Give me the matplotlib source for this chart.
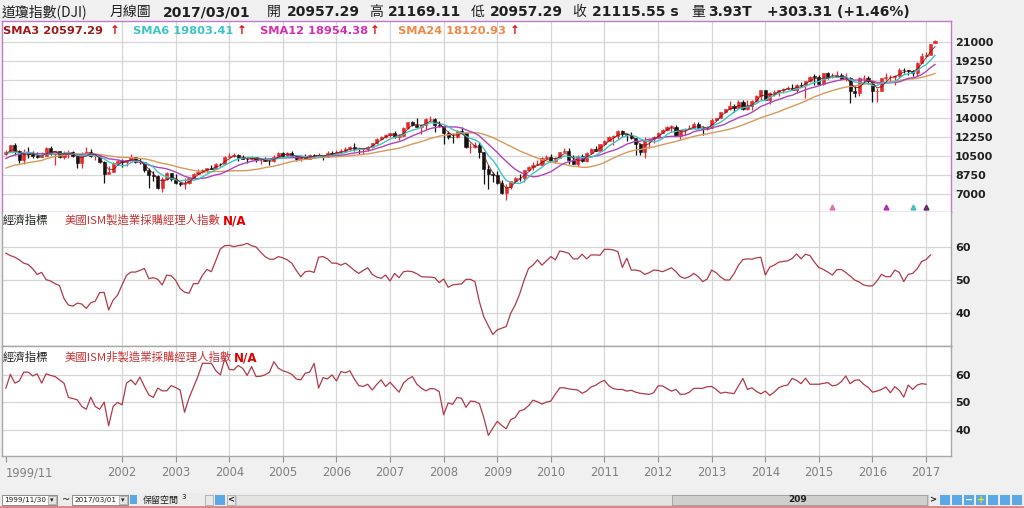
import matplotlib
matplotlib.use('Agg')
import matplotlib.pyplot as plt
import numpy as np
import pandas as pd
from matplotlib.patches import Rectangle

plt.rcParams['font.family'] = ['DejaVu Sans', 'Noto Sans CJK TC']
CJK = ['Noto Sans CJK TC', 'DejaVu Sans']

# ---------------- data ----------------
start_label = '1999/11'
year_labels = ['2002', '2003', '2004', '2005', '2006', '2007', '2008', '2009',
               '2010', '2011', '2012', '2013', '2014', '2015', '2016', '2017']

# closes before 1999/11 (for moving-average warm-up), 1997/12 .. 1999/10
pre_closes = [7908, 7907, 8546, 8800, 9063, 8900, 8952, 8883, 7539, 7843, 8592, 9117, 9181,
              9359, 9307, 9786, 10789, 10560, 10971, 10655, 10829, 10337, 10729]

opens = [10730, 10878,
 11497, 10940, 10128, 10922, 10734, 10522, 10448, 10522, 11215, 10651, 10971, 10415,
 10788, 10887, 10495, 9879, 10735, 10912, 10502, 10523, 9950, 8848, 9075, 9852,
 10022, 9920, 10106, 10404, 9946, 9925, 9243, 8737, 8664, 7592, 8397, 8896,
 8342, 8054, 7891, 7992, 8480, 8850, 8985, 9234, 9416, 9275, 9801, 9782,
 10454, 10488, 10584, 10358, 10226, 10188, 10435, 10140, 10174, 10080, 10027, 10428,
 10783, 10490, 10766, 10504, 10193, 10467, 10275, 10641, 10482, 10569, 10440, 10806,
 10718, 10865, 10993, 11109, 11367, 11168, 11150, 11186, 11381, 11679, 12081, 12222,
 12463, 12622, 12269, 12354, 13063, 13628, 13409, 13212, 13358, 13896, 13930, 13372,
 13265, 12650, 12266, 12263, 12820, 12638, 11350, 11378, 11544, 10851, 9325, 8829,
 8776, 8001, 7063, 7609, 8168, 8500, 8447, 9172, 9496, 9712, 9713, 10345,
 10428, 10067, 10325, 10857, 11009, 10137, 9774, 10466, 10015, 10788, 11118, 11006,
 11578, 11892, 12226, 12320, 12811, 12570, 12414, 12143, 11614, 10913, 11955, 12046,
 12218, 12633, 12952, 13212, 13214, 12393, 12880, 13009, 13091, 13437, 13096, 13026,
 13104, 13861, 14054, 14579, 14840, 15116, 14910, 15500, 14810, 15130, 15546, 16086,
 16577, 15699, 16322, 16458, 16581, 16717, 16827, 16563, 17098, 17043, 17391, 17828,
 17823, 17165, 18133, 17776, 17841, 18011, 17620, 17690, 16528, 16285, 17664, 17720,
 17425, 16466, 16517, 17685, 17774, 17787, 17930, 18432, 18401, 18308, 18142, 19124,
 19763, 19864, 20957.29]

highs = [11090, 11568,
 11750, 11040, 11120, 11350, 10980, 10870, 10870, 11310, 11400, 10980, 10990, 10950,
 11020, 11000, 10700, 10860, 11350, 11140, 10700, 10620, 10000, 9590, 9980, 10200,
 10260, 10170, 10670, 10450, 10350, 9930, 9380, 9080, 8730, 8540, 9040, 8910,
 8870, 8110, 8520, 8500, 8900, 9340, 9340, 9430, 9690, 9830, 9900, 10480,
 10750, 10760, 10700, 10570, 10320, 10500, 10450, 10200, 10380, 10180, 10580, 10870,
 10880, 10850, 10980, 10600, 10550, 10700, 10720, 10720, 10740, 10590, 10940, 10990,
 11050, 11130, 11330, 11420, 11670, 11260, 11250, 11420, 11730, 12170, 12350, 12530,
 12650, 12790, 12500, 13160, 13690, 13700, 14020, 13450, 14000, 14200, 13980, 13780,
 13280, 12770, 12620, 12900, 13140, 12660, 11700, 11810, 11790, 10880, 9650, 9030,
 9090, 8310, 7930, 8240, 8570, 8880, 9200, 9630, 9920, 10120, 10410, 10580,
 10730, 10400, 10910, 11260, 11210, 10600, 10580, 10720, 10860, 11250, 11450, 11650,
 12020, 12390, 12420, 12880, 12880, 12580, 12750, 12150, 11720, 12280, 12200, 12330,
 12720, 13000, 13290, 13340, 13340, 12900, 13080, 13330, 13650, 13660, 13290, 13290,
 13970, 14020, 14590, 14890, 15540, 15340, 15630, 15660, 15710, 15720, 16170, 16590,
 16590, 16400, 16590, 16630, 16740, 16980, 17150, 17160, 17350, 17400, 17900, 18100,
 17950, 18140, 18290, 18180, 18350, 18200, 18140, 17780, 16930, 17800, 17980, 17900,
 17430, 16800, 17720, 18170, 18000, 18020, 18620, 18670, 18430, 18400, 19150, 19990,
 20130, 20850, 21169.11]

lows = [10580, 10870,
 10640, 9860, 9730, 10300, 10300, 10350, 10420, 10520, 10600, 9650, 10350, 10270,
 10350, 10380, 9390, 9390, 10700, 10400, 10100, 9900, 8060, 8820, 9060, 9700,
 9530, 9630, 10100, 9850, 9800, 9070, 7530, 8240, 7500, 7200, 8290, 8230,
 7940, 7700, 7420, 7960, 8450, 8840, 8940, 9050, 9270, 9270, 9560, 9770,
 10400, 10450, 10000, 10200, 9850, 10150, 9960, 9800, 10050, 9700, 9980, 10400,
 10370, 10410, 10400, 10000, 10090, 10250, 10250, 10400, 10400, 10150, 10400, 10650,
 10660, 10700, 10900, 11000, 10960, 10700, 10700, 10980, 11250, 11650, 11980, 12190,
 12300, 12200, 11940, 12350, 13030, 13250, 13170, 12500, 12950, 13740, 12720, 13150,
 11630, 12070, 11730, 12200, 12600, 11290, 10830, 11220, 10360, 7880, 7450, 8120,
 7900, 7000, 6470, 7470, 8050, 8220, 8090, 9080, 9250, 9670, 9670, 10240,
 10020, 9840, 10320, 10850, 9770, 9740, 9610, 9930, 9940, 10710, 10930, 10990,
 11540, 11880, 11560, 12090, 12300, 11860, 12080, 10600, 10600, 10360, 11230, 11740,
 12200, 12630, 12780, 12710, 12350, 12040, 12490, 12960, 13060, 13050, 12470, 12880,
 13100, 13780, 14050, 14430, 14740, 14550, 14900, 14760, 14770, 14720, 15500, 15700,
 15690, 15340, 16000, 16000, 16330, 16690, 16560, 16330, 16920, 15860, 17360, 17070,
 17140, 17040, 17580, 17660, 17780, 17590, 17400, 15370, 15940, 16010, 17210, 17140,
 15450, 15500, 16500, 17480, 17330, 17060, 17710, 18160, 17990, 17890, 17880, 19100,
 19680, 19830, 20957.29]

closes = [10878, 11497,
 10940, 10128, 10922, 10734, 10522, 10448, 10522, 11215, 10651, 10971, 10415, 10788,
 10887, 10495, 9879, 10735, 10912, 10502, 10523, 9950, 8848, 9075, 9852, 10022,
 9920, 10106, 10404, 9946, 9925, 9243, 8737, 8664, 7592, 8397, 8896, 8342,
 8054, 7891, 7992, 8480, 8850, 8985, 9234, 9416, 9275, 9801, 9782, 10454,
 10488, 10584, 10358, 10226, 10188, 10435, 10140, 10174, 10080, 10027, 10428, 10783,
 10490, 10766, 10504, 10193, 10467, 10275, 10641, 10482, 10569, 10440, 10806, 10718,
 10865, 10993, 11109, 11367, 11168, 11150, 11186, 11381, 11679, 12081, 12222, 12463,
 12622, 12269, 12354, 13063, 13628, 13409, 13212, 13358, 13896, 13930, 13372, 13265,
 12650, 12266, 12263, 12820, 12638, 11350, 11378, 11544, 10851, 9325, 8829, 8776,
 8001, 7063, 7609, 8168, 8500, 8447, 9172, 9496, 9712, 9713, 10345, 10428,
 10067, 10325, 10857, 11009, 10137, 9774, 10466, 10015, 10788, 11118, 11006, 11578,
 11892, 12226, 12320, 12811, 12570, 12414, 12143, 11614, 10913, 11955, 12046, 12218,
 12633, 12952, 13212, 13214, 12393, 12880, 13009, 13091, 13437, 13096, 13026, 13104,
 13861, 14054, 14579, 14840, 15116, 14910, 15500, 14810, 15130, 15546, 16086, 16577,
 15699, 16322, 16458, 16581, 16717, 16827, 16563, 17098, 17043, 17391, 17828, 17823,
 17165, 18133, 17776, 17840.52, 18010.68, 17619.51, 17689.86, 16528.03, 16284.70, 17663.54, 17719.92, 17425.03,
 16466.30, 16516.50, 17685.09, 17773.64, 17787.20, 17929.99, 18432.24, 18400.88, 18308.15, 18142.42, 19123.58, 19762.60,
 19864.09, 20812.24, 21115.55]

ism_mfg = [58.2, 57.5,
 57.0, 56.2, 55.2, 54.8, 53.5, 51.8, 52.4, 50.2, 49.8, 49.0, 48.4, 44.5,
 42.5, 42.2, 43.1, 42.8, 41.5, 43.2, 43.7, 46.3, 46.3, 41.0, 44.0, 45.5,
 48.6, 51.5, 52.5, 52.5, 53.0, 53.6, 50.5, 50.8, 50.3, 48.6, 51.6, 51.4,
 50.0, 47.5, 46.4, 46.1, 49.0, 49.0, 51.5, 53.3, 52.6, 56.0, 59.5, 60.5,
 60.6, 60.2, 60.5, 60.7, 61.2, 60.5, 60.1, 58.6, 57.2, 56.4, 56.4, 57.2,
 56.8, 56.2, 55.2, 53.0, 51.1, 52.6, 52.8, 52.4, 57.0, 57.2, 56.5, 55.2,
 55.2, 54.6, 55.2, 54.2, 53.0, 52.1, 53.0, 53.8, 51.8, 51.0, 50.6, 51.6,
 49.8, 52.1, 50.8, 52.6, 52.8, 52.6, 52.0, 51.1, 51.0, 51.0, 50.8, 49.3,
 50.4, 47.9, 48.6, 48.8, 48.9, 50.3, 50.3, 49.6, 43.5, 38.9, 36.2, 33.6,
 35.0, 35.5, 36.0, 40.0, 42.5, 45.8, 50.0, 53.6, 54.6, 56.2, 54.6, 55.9,
 57.2, 56.2, 58.9, 58.6, 58.2, 56.5, 56.5, 57.9, 56.5, 57.7, 57.7, 57.6,
 59.4, 59.4, 59.2, 58.7, 53.9, 56.7, 53.1, 53.1, 52.8, 51.8, 52.3, 53.1,
 53.0, 52.6, 53.2, 53.8, 52.6, 51.1, 50.6, 51.1, 52.1, 51.1, 49.6, 50.4,
 53.1, 52.3, 51.0, 50.1, 50.1, 52.0, 54.6, 56.3, 56.5, 56.4, 56.8, 57.0,
 51.6, 54.0, 54.6, 55.5, 55.7, 55.9, 56.6, 58.0, 56.5, 57.9, 57.5, 55.5,
 53.9, 53.3, 52.5, 51.6, 53.2, 53.3, 52.4, 51.3, 50.1, 49.5, 48.6, 48.3,
 48.3, 49.8, 51.8, 51.1, 51.1, 53.1, 52.4, 49.6, 51.8, 52.1, 53.5, 55.7,
 56.3, 57.7]

ism_nonmfg = [55.2, 60.2,
 57.0, 57.8, 61.0, 61.0, 59.6, 60.4, 57.0, 60.4, 59.8, 59.4, 58.2, 57.0,
 51.8, 51.4, 50.9, 48.5, 47.5, 51.9, 48.5, 47.5, 50.1, 41.5, 48.5, 50.0,
 49.1, 57.0, 58.2, 56.4, 59.2, 55.8, 52.7, 51.8, 55.2, 54.2, 54.2, 56.1,
 55.4, 54.5, 46.4, 51.6, 55.5, 59.5, 64.2, 64.2, 64.2, 61.5, 60.0, 66.0,
 62.0, 61.8, 63.4, 62.4, 59.8, 63.0, 59.4, 59.5, 60.0, 61.0, 64.8, 62.4,
 61.5, 61.0, 60.2, 58.5, 58.2, 60.6, 61.0, 64.2, 55.2, 59.0, 58.5, 60.0,
 57.8, 61.2, 60.8, 61.5, 58.5, 56.1, 55.8, 56.6, 54.5, 56.5, 58.2, 55.8,
 57.3, 55.5, 53.7, 57.0, 58.5, 59.4, 56.6, 55.2, 54.2, 55.0, 54.9, 53.9,
 45.5, 49.8, 49.3, 51.8, 51.5, 48.2, 50.5, 50.3, 49.5, 44.4, 38.0, 40.6,
 43.1, 41.6, 40.4, 43.7, 44.5, 46.9, 47.4, 48.8, 50.8, 50.2, 49.4, 50.1,
 50.5, 53.0, 55.3, 55.3, 54.9, 54.7, 54.5, 53.3, 54.1, 55.6, 56.2, 57.3,
 58.0, 56.0, 55.0, 54.7, 54.7, 54.1, 54.4, 53.7, 53.3, 53.1, 52.9, 53.5,
 56.0, 56.0, 55.0, 54.1, 54.7, 52.9, 53.0, 53.7, 55.1, 55.1, 55.1, 55.7,
 55.8, 54.7, 53.3, 53.7, 53.4, 53.2, 56.0, 58.7, 54.7, 55.3, 54.0, 53.1,
 54.1, 52.5, 53.7, 55.3, 56.0, 56.3, 58.7, 58.0, 56.8, 58.8, 56.6, 56.6,
 56.6, 56.9, 57.2, 56.0, 56.3, 57.5, 59.6, 56.8, 58.0, 58.2, 56.6, 55.5,
 53.7, 54.1, 54.7, 55.6, 53.5, 55.7, 54.4, 51.9, 56.3, 54.7, 56.3, 56.8,
 56.6]

signal_idx = [185, 197, 203, 206]

# ---------------- figure ----------------
W, H = 1024, 508
BG = '#f0f0f0'
fig = plt.figure(figsize=(W / 100, H / 100), dpi=100, facecolor=BG)

def rect(x0, y0, x1, y1):
    return [x0 / W, 1 - y1 / H, (x1 - x0) / W, (y1 - y0) / H]

n = len(closes)
idx = np.arange(n)
X0 = 5.9
DX = 4.467
xlim = ((2 - X0) / DX, (951 - X0) / DX)
year_pos = [(int(y) - 1999) * 12 - 10 for y in year_labels]

all_close = pd.Series(pre_closes + list(closes), dtype=float)
sma = {p: all_close.rolling(p).mean().values[len(pre_closes):] for p in (3, 6, 12, 24)}

GRID = '#d6d6d6'

def style_panel(ax, ylim, yticks, spine_color):
    ax.set_xlim(*xlim)
    ax.set_ylim(*ylim)
    ax.set_facecolor('white')
    for s in ax.spines.values():
        s.set_color(spine_color)
        s.set_linewidth(1.0)
    for xp in year_pos:
        ax.axvline(xp, color=GRID, lw=0.9, zorder=0)
    for yt in yticks:
        ax.axhline(yt, color=GRID, lw=0.9, zorder=0)
    ax.yaxis.tick_right()
    ax.set_yticks(yticks)
    ax.set_yticklabels([str(v) for v in yticks], fontsize=8, fontweight='bold', color='#202020')
    ax.tick_params(axis='y', length=0, pad=3)

# main panel
ax1 = fig.add_axes(rect(2, 21, 951, 212))
main_ticks = [7000, 8750, 10500, 12250, 14000, 15750, 17500, 19250, 21000]
style_panel(ax1, (5339, 22966), main_ticks, '#c07cc8')
ax1.set_xticks([])

o = np.array(opens, float); c = np.array(closes, float)
h = np.array(highs, float); l = np.array(lows, float)
up = c >= o
col = np.where(up, '#e62a2a', '#111111')
ax1.vlines(idx, l, h, colors=col, lw=0.9, zorder=2)
body_lo = np.minimum(o, c)
body_h = np.maximum(np.abs(c - o), 25)
ax1.bar(idx, body_h, bottom=body_lo, width=0.7, color=col, edgecolor=col, lw=0.4, zorder=3)

ax1.plot(idx, sma[24], color='#d8995a', lw=1.0, zorder=4)
ax1.plot(idx, sma[12], color='#b044bc', lw=1.0, zorder=4)
ax1.plot(idx, sma[6], color='#3cc6c6', lw=1.0, zorder=4)
ax1.plot(idx, sma[3], color='#7a1010', lw=0.7, zorder=4, alpha=0.8)

sig_colors = ['#e070b0', '#b030b0', '#40c0c0', '#603060']
for k, si in enumerate(signal_idx):
    ax1.plot([si], [5800], marker='^', ms=3.5, color=sig_colors[k], zorder=5)

# ISM manufacturing
ax2 = fig.add_axes(rect(2, 212, 951, 346))
style_panel(ax2, (30.1, 70.7), [40, 50, 60], '#a8a8a8')
ax2.spines['top'].set_visible(False)
ax2.set_xticks([])
ax2.plot(np.arange(len(ism_mfg)), ism_mfg, color='#b03a4a', lw=0.9, zorder=3)

# ISM non-manufacturing
ax3 = fig.add_axes(rect(2, 346, 951, 456))
style_panel(ax3, (30.5, 70.5), [40, 50, 60], '#a8a8a8')
ax3.plot(np.arange(len(ism_nonmfg)), ism_nonmfg, color='#b03a4a', lw=0.9, zorder=3)
ax3.set_xticks([0] + year_pos)
ax3.set_xticklabels([start_label] + year_labels, fontsize=8.3, color='#808080')
ax3.tick_params(axis='x', length=4.5, pad=3, color='#909090')
ax3.get_xticklabels()[0].set_ha('left')

# ---------------- overlay for texts & toolbar ----------------
ov = fig.add_axes([0, 0, 1, 1], zorder=10)
ov.set_xlim(0, W); ov.set_ylim(H, 0)
ov.axis('off')
ov.patch.set_alpha(0)

def T(x, y, s, size=10, color='#202020', bold=False, fam=None, ha='left'):
    kw = dict(fontsize=size, color=color, va='center', ha=ha,
              fontweight='bold' if bold else 'normal')
    if fam is not None:
        kw['family'] = fam
    ov.text(x, y, s, **kw)

# header
HY = 12
T(2, HY, '道瓊指數(DJI)', 10, fam=CJK)
T(110, HY, '月線圖', 10, fam=CJK)
T(163, HY, '2017/03/01', 10, bold=True)
T(267, HY, '開', 10, fam=CJK)
T(287, HY, '20957.29', 10, bold=True)
T(369, HY, '高', 10, fam=CJK)
T(388, HY, '21169.11', 10, bold=True)
T(471, HY, '低', 10, fam=CJK)
T(490, HY, '20957.29', 10, bold=True)
T(572, HY, '收', 10, fam=CJK)
T(592, HY, '21115.55 s', 10, bold=True)
T(691, HY, '量', 10, fam=CJK)
T(708, HY, '3.93T', 10, bold=True)
T(767, HY, '+303.31 (+1.46%)', 10, bold=True)

# legend
LY = 31
leg = [(3, 110, 'SMA3', sma[3][-1], '#a01818'),
       (133, 237, 'SMA6', sma[6][-1], '#3cc4c4'),
       (260, 370, 'SMA12', sma[12][-1], '#d630b0'),
       (398, 510, 'SMA24', sma[24][-1], '#f08848')]
for x, xa, name, val, cc in leg:
    T(x, LY, f'{name} {val:.2f}', 8.2, color=cc, bold=True)
    T(xa, LY - 1, '↑', 8.5, color='#e01010', bold=True)

# panel labels
T(3, 220, '經濟指標', 8.2, color='#202020', fam=CJK)
T(65, 220, '美國ISM製造業採購經理人指數', 8.2, color='#c83232', fam=CJK)
T(223, 221, 'N/A', 8.6, color='#e00000', bold=True)
T(3, 357, '經濟指標', 8.2, color='#202020', fam=CJK)
T(65, 357, '美國ISM非製造業採購經理人指數', 8.2, color='#c83232', fam=CJK)
T(234, 358, 'N/A', 8.6, color='#e00000', bold=True)

# toolbar
def R(x0, y0, x1, y1, fc, ec='none', lw=0.6):
    ov.add_patch(Rectangle((x0, y0), x1 - x0, y1 - y0, facecolor=fc, edgecolor=ec, lw=lw))

R(0, 493, 1024, 505, '#ececec')
R(2, 495, 57, 505, 'white', '#7a7a7a')
R(48, 496, 56, 504, '#e4e4e4', '#8a8a8a', 0.4)
T(4, 500, '1999/11/30', 5.2, color='#202020')
T(52, 500, '▾', 5, color='#202020', ha='center')
T(62, 500, '~', 7, color='#202020')
R(72, 495, 128, 505, 'white', '#7a7a7a')
R(119, 496, 127, 504, '#e4e4e4', '#8a8a8a', 0.4)
T(74, 500, '2017/03/01', 5.2, color='#202020')
T(123, 500, '▾', 5, color='#202020', ha='center')
R(130, 495, 137, 504, '#5aa8e6')
T(143, 500, '保留空間', 6.5, color='#202020', fam=CJK)
T(181, 497, '3', 5, color='#202020')
R(205, 495, 213, 505, '#e8e8e8', '#8a8a8a', 0.4)
R(215, 495, 225, 505, '#5aa8e6')
R(227, 495, 235, 505, '#e8e8e8', '#8a8a8a', 0.4)
T(231, 500, '<', 6, color='#202020', bold=True, ha='center')
R(236, 495, 928, 505, '#e4e4e4', '#b8b8b8', 0.4)
R(672, 495, 927, 505, '#cfcfcf', '#909090', 0.5)
T(798, 500, '209', 6.5, color='#202020', bold=True, ha='center')
T(933, 500, '>', 6, color='#202020', bold=True, ha='center')
icon_cols = ['#5aa8e6', '#5aa8e6', '#5aa8e6', '#5aa8e6', '#5aa8e6', '#5aa8e6', '#5aa8e6']
for k, ic in enumerate(icon_cols):
    R(940 + k * 12, 495, 950 + k * 12, 505, ic)
T(969, 500, '−', 7, color='white', bold=True, ha='center')
T(981, 500, '+', 7, color='#f0e020', bold=True, ha='center')
R(0, 505.5, 1024, 508, '#d88a8a')

fig.savefig('out.png', dpi=100, facecolor=BG)
